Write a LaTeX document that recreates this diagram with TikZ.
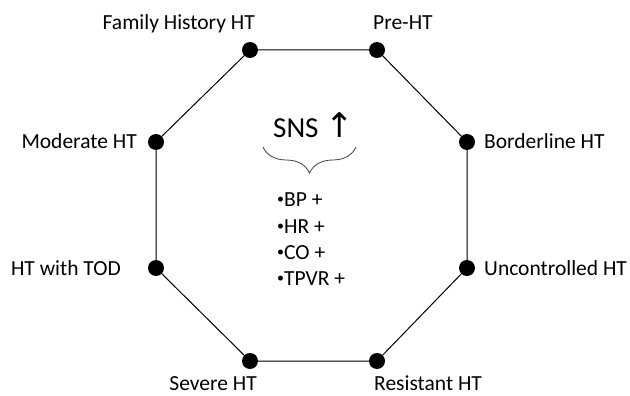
\documentclass[tikz,border=0pt]{standalone}
\usepackage{fontspec}
\setmainfont{Carlito}
\newfontfamily\arrowfont{DejaVu Sans}
\usepackage{tikz}
\usetikzlibrary{positioning, decorations.pathreplacing}

\newcommand{\smbul}{\raisebox{3pt}{\fontsize{14}{14}\selectfont•}}

\begin{document}
\begin{tikzpicture}[
  x=1pt, y=-1pt,
  font=\fontsize{21.5}{26.3}\selectfont,
  dot/.style={
    circle, fill=black,
    inner sep=0pt,
    minimum size=16pt
  },
  lbl/.style={inner sep=0pt},
  edge/.style={draw=black, line width=1pt},
  brace/.style={
    draw=black!75, line width=0.8pt,
    decorate, decoration={brace, mirror, amplitude=26pt}
  },
]
\useasboundingbox (0,0) rectangle (630,396);

% --- Stages (octagon corners) ---
\node[dot] (FH) at (250,50) {};
\node[dot] (PH) at (377,50) {};
\node[dot] (BL) at (467,142) {};
\node[dot] (UC) at (467,268) {};
\node[dot] (RS) at (377,361) {};
\node[dot] (SV) at (250,361) {};
\node[dot] (TOD) at (156,268) {};
\node[dot] (MD) at (156,142) {};

% --- Labels ---
\node[lbl, anchor=base east] (lFH) at (255,30) {Family History HT};
\node[lbl, anchor=base west] (lPH) at (373,30) {Pre-HT};
\node[lbl, anchor=base west] (lBL) at (484,149) {Borderline HT};
\node[lbl, anchor=base west] (lUC) at (484,275) {Uncontrolled HT};
\node[lbl, anchor=base west] (lRS) at (374,390) {Resistant HT};
\node[lbl, anchor=base east] (lSV) at (257,390) {Severe HT};
\node[lbl, anchor=base east] (lTOD) at (121,275) {HT with TOD};
\node[lbl, anchor=base east] (lMD) at (137,149) {Moderate HT};

% --- Centre ---
\node[lbl, anchor=base west, font=\fontsize{29}{32}\selectfont] (SNS) at (273,138)
  {SNS {\arrowfont\fontsize{34}{34}\selectfont ↑}};
\coordinate (bL) at (263,147);
\coordinate (bR) at (356,147);
\draw[brace] (bL) -- (bR);
\node[lbl, anchor=north west, align=left] (LIST) at (277,193)
  {\smbul BP +\\\smbul HR +\\\smbul CO +\\\smbul TPVR +};

% --- Edges ---
\draw[edge] (FH) -- (PH) -- (BL) -- (UC) -- (RS) -- (SV) -- (TOD) -- (MD) -- (FH);

\end{tikzpicture}
\end{document}
